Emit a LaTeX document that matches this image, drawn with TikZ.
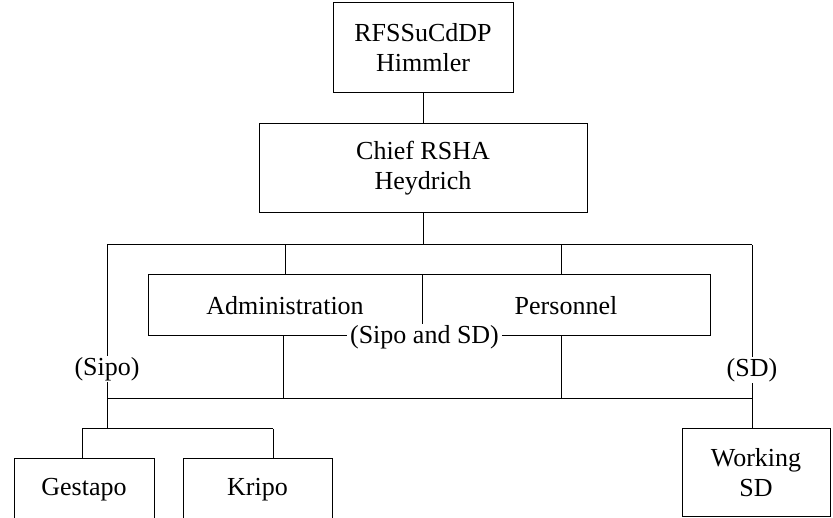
\documentclass[tikz,border=0pt]{standalone}
\usepackage{fontspec}
\setmainfont{Liberation Serif}
\begin{document}
\begin{tikzpicture}[x=1pt,y=-1pt,
  box/.style={draw,line width=1pt,inner sep=0pt,align=center,font=\fontsize{26}{30}\selectfont},
  lbl/.style={fill=white,inner xsep=3pt,inner ysep=1pt,font=\fontsize{26}{30}\selectfont},
  ln/.style={line width=1pt}]
\useasboundingbox (0,0) rectangle (833,518);
\clip (0,0) rectangle (833,518);
% boxes
\node[box,minimum width=180,minimum height=90] (himmler) at (423,48) {RFSSuCdDP\\Himmler};
\node[box,minimum width=328,minimum height=89] (chief) at (423,168.5) {Chief RSHA\\Heydrich};
\node[box,minimum width=274,minimum height=61] (admin) at (285,305.5) {Administration};
\node[box,minimum width=288,minimum height=61] (pers) at (566,305.5) {Personnel};
\node[box,minimum width=140,minimum height=62] (gestapo) at (84,490) {Gestapo};
\node[box,minimum width=149,minimum height=62] (kripo) at (257.5,490) {Kripo};
\node[box,minimum width=148,minimum height=87] (wsd) at (756,472.5) {Working\\SD};
% coordinates
\coordinate (bt) at (423,245);
\coordinate (bl) at (107,245);
\coordinate (br) at (752,245);
\coordinate (a1) at (285,245);
\coordinate (p1) at (561,245);
\coordinate (a2) at (283,399);
\coordinate (p2) at (561,399);
\coordinate (lbl) at (107,399);
\coordinate (lbr) at (752,399);
\coordinate (gb) at (107,429);
\coordinate (gbl) at (82,429);
\coordinate (gbr) at (273,429);
% connectors
\draw[ln] (himmler.south) -- (himmler.south |- chief.north);
\draw[ln] (chief.south) -- (bt);
\draw[ln] (bl) -- (br);
\draw[ln] (bl) -- (gb);
\draw[ln] (br) -- (br |- wsd.north);
\draw[ln] (a1) -- (admin.north);
\draw[ln] (p1) -- (p1 |- pers.north);
\draw[ln] (a2 |- admin.south) -- (a2);
\draw[ln] (p2 |- pers.south) -- (p2);
\draw[ln] (lbl) -- (lbr);
\draw[ln] (gbl) -- (gbr);
\draw[ln] (gbl) -- (gbl |- gestapo.north);
\draw[ln] (gbr) -- (gbr |- kripo.north);
% labels
\node[lbl] (siposd) at (424.5,337) {(Sipo and SD)};
\node[lbl] (sipo) at (107,369) {(Sipo)};
\node[lbl] (sd) at (752,370) {(SD)};
\end{tikzpicture}
\end{document}
